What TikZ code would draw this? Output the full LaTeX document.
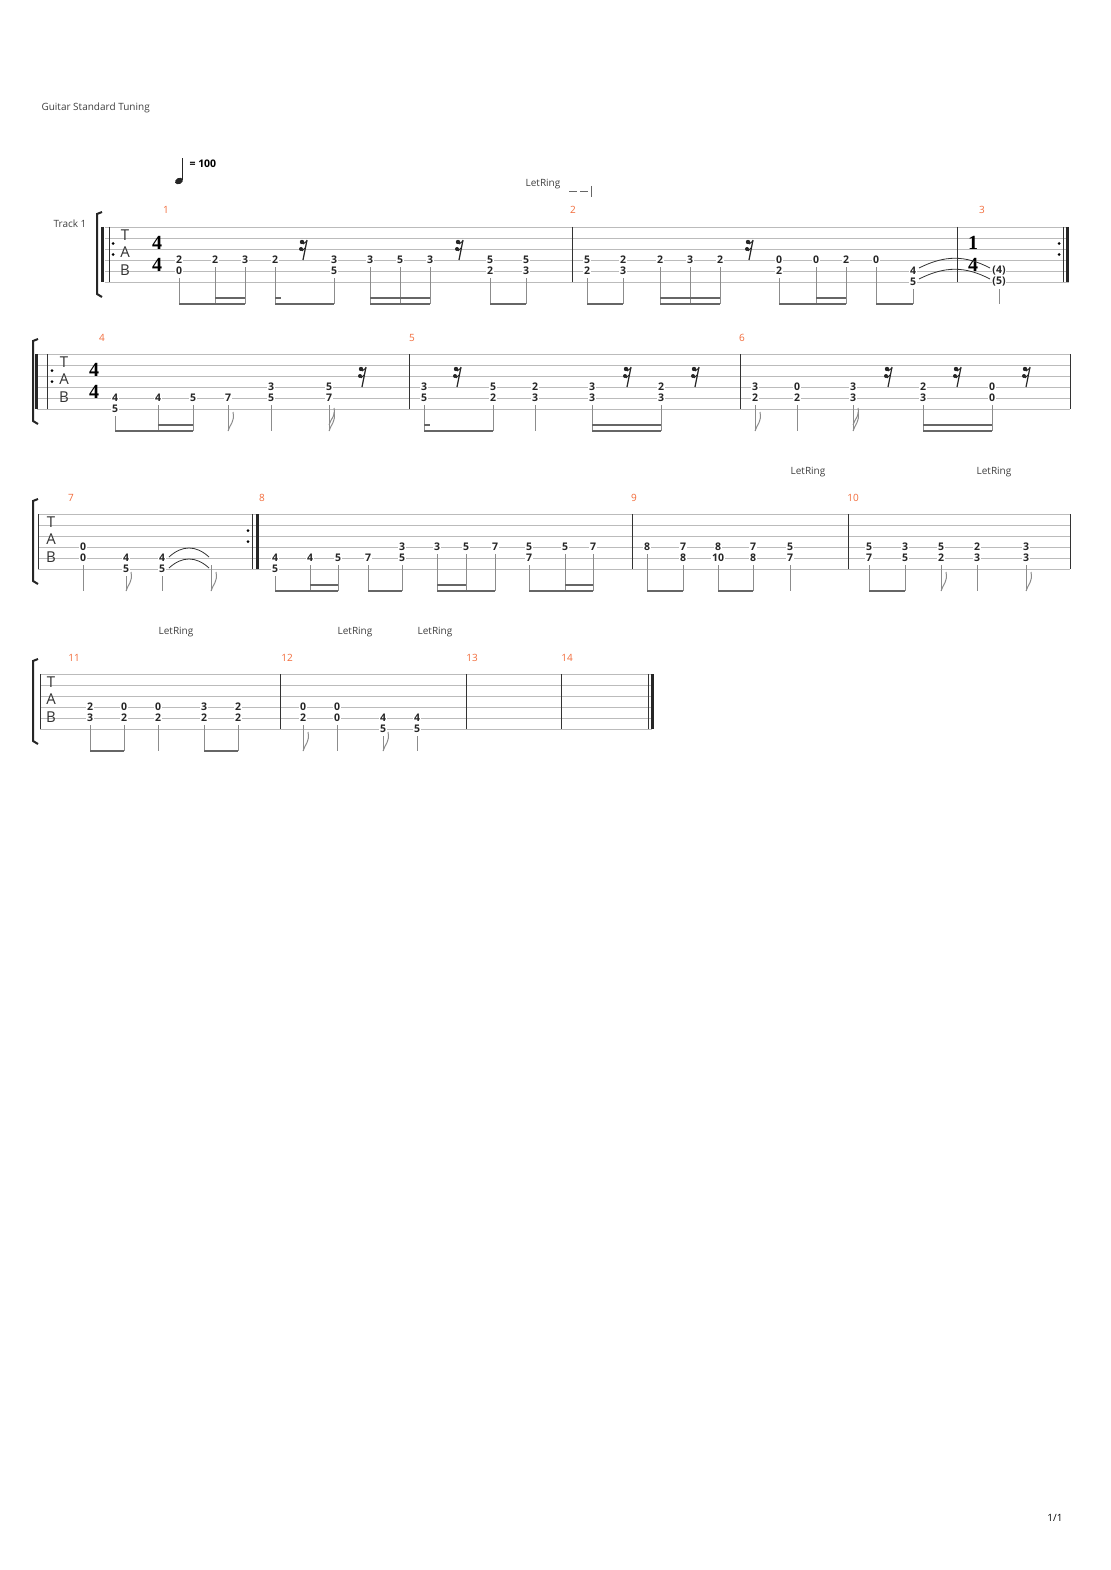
\documentclass[tikz,border=0pt]{standalone}
\usepackage{fontspec}
\setmainfont{Open Sans}
\newfontfamily\sigfont{Liberation Serif}
\usetikzlibrary{positioning}
\definecolor{tabline}{HTML}{BBBBBB}
\definecolor{stemgray}{HTML}{8C8C8C}
\definecolor{beamgray}{HTML}{666666}
\definecolor{barnumcol}{HTML}{F26B3A}

\tikzset{
  staffline/.style={tabline, line width=0.8pt},
  fret/.style={font=\fontsize{10.5}{10}\selectfont\bfseries, fill=white, inner sep=0.6pt, text=black!85},
  stemline/.style={stemgray, line width=1pt},
  beamline/.style={beamgray, line width=2.6pt},
  barline/.style={black!80, line width=1pt},
  barnum/.style={text=barnumcol, font=\fontsize{10}{10}\selectfont},
  lettext/.style={text=black!75, font=\fontsize{10}{10}\selectfont},
  tabletter/.style={font=\fontsize{15}{15}\selectfont, text=black!80},
  timesig/.style={font=\sigfont\fontsize{20}{20}\selectfont\bfseries},
  tieline/.style={black!80, line width=0.8pt}
}

% staff helpers (y runs downwards inside each system)
\newcommand{\tabstaff}[2]{\foreach \k in {0,...,5} \draw[staffline] (#1,\k*11) -- (#2,\k*11);}
\newcommand{\frets}[1]{\foreach \x/\s/\f in {#1} \node[fret] (f-\x-\s) at (\x,{(\s-1)*11}) {\f};}
\newcommand{\stems}[1]{\foreach \x/\s in {#1} \draw[stemline] (\x,{(\s-1)*11+7}) -- (\x,77);}
\newcommand{\beams}[1]{\foreach \a/\b/\l in {#1} \draw[beamline] (\a,{77-(\l-1)*6}) -- (\b,{77-(\l-1)*6});}
\newcommand{\flagsA}[1]{\foreach \x in {#1} \draw[stemline] (\x,77) .. controls (\x+2,70) and (\x+7,68) .. (\x+5,58);}
\newcommand{\flagsB}[1]{\foreach \x in {#1} {\draw[stemline] (\x,77) .. controls (\x+2,70) and (\x+7,68) .. (\x+5,58);
  \draw[stemline] (\x,71) .. controls (\x+2,64) and (\x+7,62) .. (\x+5,54);}}
\newcommand{\rests}[1]{\foreach \x in {#1} {\draw[black!85, line width=1.2pt] (\x+3,13) -- (\x-1,33);
  \fill[black!85] (\x-2,15) circle (2.2); \draw[black!85, line width=1pt] (\x-1,17) -- (\x+3,14);
  \fill[black!85] (\x-3,22) circle (2); \draw[black!85, line width=1pt] (\x-2,24) -- (\x+1,21);}}
\newcommand{\bars}[1]{\foreach \x in {#1} \draw[barline] (\x,0) -- (\x,55);}
\newcommand{\tabhead}[1]{\node[tabletter] (tl-#1) at (#1,8) {T}; \node[tabletter] at (#1,25) {A}; \node[tabletter] at (#1,43) {B};}
\newcommand{\bracketat}[1]{\draw[black!85, line width=2pt] (#1+5,-15) -- (#1,-13) -- (#1,67) -- (#1+5,70);}
\newcommand{\repdots}[1]{\fill (#1,16.5) circle (1.5); \fill (#1,27.5) circle (1.5);}

\begin{document}
\begin{tikzpicture}[x=1pt, y=-1pt]
\useasboundingbox[fill=white] (0,0) rectangle (1110,1570);

\node[anchor=west, lettext] (tuning) at (38,108) {Guitar Standard Tuning};
% tempo
\fill[black!85, rotate around={25:(179,181)}] (179,181) ellipse (4.2 and 3);
\draw[black!85, line width=0.9pt] (182.7,180) -- (182.7,158);
\node[anchor=west, font=\fontsize{10.5}{10}\selectfont\bfseries] (tempo) at (186,164) {= 100};
\node[lettext] (ring1) at (543,184) {LetRing};
\draw[black!60, line width=1pt] (569,192) -- (577,192) (580,192) -- (588,192) (591,186) -- (591,197);
\node[font=\fontsize{10}{10}\selectfont] (page) at (1055,1518) {1/1};

% system 1
\begin{scope}[yshift=-227pt]
  \node[lettext] (track) at (70,-3) {Track 1};
  \bracketat{97}
  \tabstaff{105}{1069}
  \draw[black!85, line width=3pt] (102.5,0) -- (102.5,55);
  \draw[barline] (109,0) -- (109,55); \repdots{113}
  \tabhead{125}
  \node[timesig] at (157,16) {4}; \node[timesig] at (157,38) {4};
  \node[timesig] at (973,16) {1}; \node[timesig] at (973,38) {4};
  \bars{572,957}
  \repdots{1059} \draw[barline] (1063,0) -- (1063,55);
  \draw[black!85, line width=3pt] (1067.5,0) -- (1067.5,55);
  \foreach \x/\n in {166/1,573/2,982/3} \node[barnum] (m\n) at (\x,-17) {\n};
  \frets{179/4/2,179/5/0,215/4/2,245/4/3,275/4/2,334/4/3,334/5/5,370/4/3,400/4/5,430/4/3,490/4/5,490/5/2,526/4/5,526/5/3,
    587/4/5,587/5/2,623/4/2,623/5/3,660/4/2,690/4/3,720/4/2,779/4/0,779/5/2,816/4/0,846/4/2,876/4/0,913/5/4,913/6/5,999/5/(4),999/6/(5)}
  \stems{179/5,215/4,245/4,275/4,334/5,370/4,400/4,430/4,490/5,526/5,587/5,623/5,660/4,690/4,720/4,779/5,816/4,846/4,876/4,913/6,999/6}
  \beams{179/245/1,215/245/2,275/334/1,275/281/2,370/430/1,370/430/2,490/526/1,587/623/1,660/720/1,660/720/2,779/846/1,816/846/2,876/913/1}
  \rests{304,460,750}
  \draw[tieline] (919,41) .. controls (945,28) and (965,28) .. (990,41);
  \draw[tieline] (919,52) .. controls (945,39) and (965,39) .. (990,52);
\end{scope}

% system 2
\begin{scope}[yshift=-354pt]
  \bracketat{33}
  \tabstaff{37}{1070}
  \draw[black!85, line width=3pt] (36.5,0) -- (36.5,55);
  \draw[barline] (47,0) -- (47,55); \repdots{52}
  \tabhead{64}
  \node[timesig] at (94,16) {4}; \node[timesig] at (94,38) {4};
  \bars{409,740,1070}
  \foreach \x/\n in {102/4,412/5,742/6} \node[barnum] (m\n) at (\x,-16) {\n};
  \frets{115/5/4,115/6/5,158/5/4,193/5/5,228/5/7,271/4/3,271/5/5,329/4/5,329/5/7,424/4/3,424/5/5,493/4/5,493/5/2,535/4/2,535/5/3,
    592/4/3,592/5/3,661/4/2,661/5/3,755/4/3,755/5/2,797/4/0,797/5/2,853/4/3,853/5/3,923/4/2,923/5/3,992/4/0,992/5/0}
  \stems{115/6,158/5,193/5,228/5,271/5,329/5,424/5,493/5,535/5,592/5,661/5,755/5,797/5,853/5,923/5,992/5}
  \beams{115/193/1,158/193/2,424/493/1,424/430/2,592/661/1,592/661/2,923/992/1,923/992/2}
  \flagsA{228,755}
  \flagsB{329,853}
  \rests{363,458,628,696,889,958,1027}
\end{scope}

% system 3
\begin{scope}[yshift=-514pt]
  \bracketat{33}
  \tabstaff{38}{1070}
  \draw[barline] (38,0) -- (38,55);
  \tabhead{51}
  \repdots{248} \draw[barline] (252,0) -- (252,55);
  \draw[black!85, line width=3pt] (257,0) -- (257,55);
  \bars{632,848,1070}
  \foreach \x/\n in {71/7,262/8,634/9,853/10} \node[barnum] (m\n) at (\x,-16) {\n};
  \node[lettext] (ring2) at (808,-42) {LetRing};
  \node[lettext] (ring3) at (994,-42) {LetRing};
  \frets{83/4/0,83/5/0,126/5/4,126/6/5,162/5/4,162/6/5,
    275/5/4,275/6/5,310/5/4,338/5/5,368/5/7,402/4/3,402/5/5,437/4/3,466/4/5,495/4/7,529/4/5,529/5/7,565/4/5,593/4/7,
    647/4/8,683/4/7,683/5/8,718/4/8,718/5/10,753/4/7,753/5/8,790/4/5,790/5/7,
    869/4/5,869/5/7,905/4/3,905/5/5,941/4/5,941/5/2,977/4/2,977/5/3,1026/4/3,1026/5/3}
  \stems{83/5,126/6,162/6,211/5,275/6,310/5,338/5,368/5,402/5,437/4,466/4,495/4,529/5,565/4,593/4,647/4,683/5,718/5,753/5,790/5,869/5,905/5,941/5,977/5,1026/5}
  \beams{275/338/1,310/338/2,368/402/1,437/495/1,437/466/2,529/593/1,565/593/2,647/683/1,718/753/1,869/905/1}
  \flagsA{126,211,941,1026}
  \draw[tieline] (169,43) .. controls (182,31) and (196,31) .. (209,43);
  \draw[tieline] (169,54) .. controls (182,42) and (196,42) .. (209,54);
\end{scope}

% system 4
\begin{scope}[yshift=-674pt]
  \bracketat{33}
  \tabstaff{40}{652}
  \draw[barline] (40,0) -- (40,55);
  \tabhead{51}
  \bars{280,466,561,648}
  \draw[black!85, line width=3pt] (652,0) -- (652,55);
  \foreach \x/\n in {74/11,287/12,472/13,567/14} \node[barnum] (m\n) at (\x,-16) {\n};
  \node[lettext] (ring4) at (176,-42) {LetRing};
  \node[lettext] (ring5) at (355,-42) {LetRing};
  \node[lettext] (ring6) at (435,-42) {LetRing};
  \frets{90/4/2,90/5/3,124/4/0,124/5/2,158/4/0,158/5/2,204/4/3,204/5/2,238/4/2,238/5/2,303/4/0,303/5/2,337/4/0,337/5/0,383/5/4,383/6/5,417/5/4,417/6/5}
  \stems{90/5,124/5,158/5,204/5,238/5,303/5,337/5,383/6,417/6}
  \beams{90/124/1,204/238/1}
  \flagsA{303,383}
\end{scope}
\end{tikzpicture}
\end{document}
